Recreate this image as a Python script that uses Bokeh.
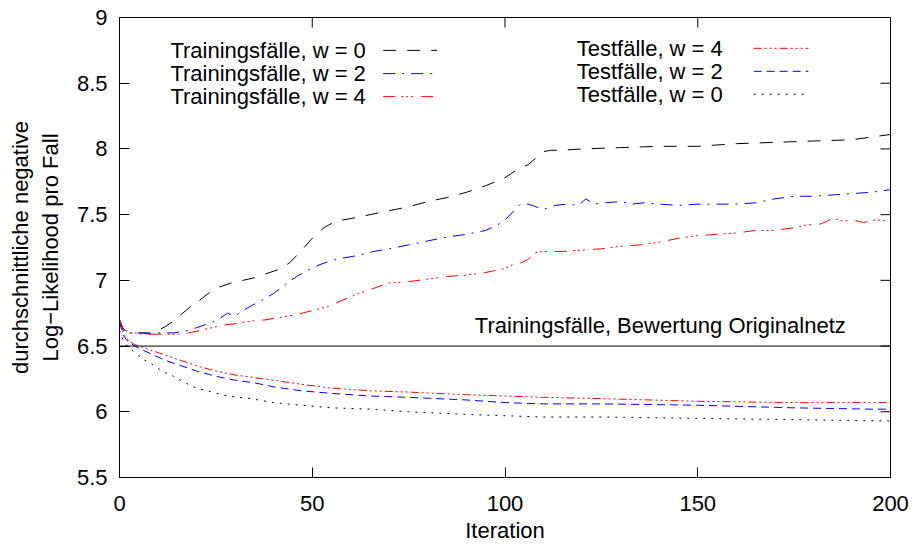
import numpy as np
from bokeh.plotting import figure
from bokeh.models import Range1d, Label, FixedTicker, Span
from bokeh.embed import file_html
from bokeh.resources import INLINE

FONT = "Liberation Sans"

# ---------------- data ----------------
x_ticks = [0, 50, 100, 150, 200]
y_ticks = [5.5, 6, 6.5, 7, 7.5, 8, 8.5, 9]

original_net_value = 6.5
original_net_label = "Trainingsfälle, Bewertung Originalnetz"

train_w0_x = [0, 1, 2, 4, 6, 8, 10, 12, 14, 16, 18, 20, 23, 26, 29, 32, 35, 38, 41, 44, 47, 50,
              53, 56, 60, 65, 70, 75, 80, 85, 90, 95, 100, 103, 106, 108, 110, 112, 115, 120,
              130, 140, 150, 160, 170, 180, 190, 195, 200]
train_w0_y = [6.69, 6.63, 6.61, 6.60, 6.60, 6.60, 6.62, 6.65, 6.69, 6.74, 6.79, 6.83, 6.90, 6.95,
              6.98, 7.00, 7.02, 7.05, 7.08, 7.13, 7.22, 7.32, 7.40, 7.45, 7.47, 7.50, 7.53,
              7.56, 7.60, 7.63, 7.67, 7.72, 7.78, 7.84, 7.88, 7.93, 7.98, 7.99, 7.99, 8.00,
              8.01, 8.02, 8.02, 8.04, 8.05, 8.06, 8.07, 8.09, 8.11]

train_w2_x = [0, 1, 2, 4, 6, 8, 10, 12, 14, 16, 18, 20, 22, 24, 26, 28, 30, 32, 35, 37, 40, 43,
              46, 49, 52, 55, 58, 62, 66, 70, 75, 80, 85, 90, 95, 98, 100, 102, 104, 106, 108,
              110, 113, 116, 119, 121, 123, 126, 130, 133, 136, 140, 145, 150, 155, 160, 165,
              170, 175, 180, 185, 190, 195, 200]
train_w2_y = [6.70, 6.62, 6.60, 6.60, 6.60, 6.59, 6.60, 6.60, 6.60, 6.61, 6.62, 6.64, 6.66,
              6.68, 6.71, 6.75, 6.73, 6.77, 6.82, 6.85, 6.90, 6.97, 7.03, 7.08, 7.12, 7.15,
              7.17, 7.19, 7.22, 7.24, 7.27, 7.30, 7.33, 7.35, 7.38, 7.42, 7.46, 7.52, 7.58,
              7.58, 7.56, 7.54, 7.57, 7.58, 7.57, 7.62, 7.58, 7.59, 7.60, 7.58, 7.59, 7.58,
              7.57, 7.58, 7.58, 7.58, 7.59, 7.62, 7.64, 7.64, 7.65, 7.66, 7.67, 7.69]

train_w4_x = [0, 1, 2, 4, 6, 8, 10, 12, 15, 18, 21, 24, 27, 30, 34, 38, 42, 46, 50, 54, 58, 62,
              66, 70, 75, 80, 85, 90, 95, 100, 102, 104, 106, 108, 110, 115, 120, 125, 130,
              135, 140, 145, 150, 155, 160, 165, 170, 175, 178, 182, 185, 188, 190, 193, 196,
              200]
train_w4_y = [6.70, 6.63, 6.60, 6.60, 6.59, 6.59, 6.59, 6.59, 6.59, 6.60, 6.62, 6.64, 6.66,
              6.67, 6.69, 6.70, 6.72, 6.74, 6.77, 6.80, 6.85, 6.90, 6.94, 6.98, 6.99, 7.01,
              7.03, 7.04, 7.06, 7.09, 7.12, 7.13, 7.16, 7.21, 7.22, 7.22, 7.23, 7.24, 7.26,
              7.27, 7.29, 7.32, 7.34, 7.35, 7.36, 7.38, 7.38, 7.40, 7.42, 7.43, 7.47, 7.45,
              7.46, 7.44, 7.46, 7.45]

test_w4_x = [0, 1, 2, 4, 6, 9, 12, 16, 20, 25, 30, 35, 40, 47, 55, 65, 75, 90, 100, 110, 125,
             150, 175, 200]
test_w4_y = [6.70, 6.60, 6.55, 6.51, 6.49, 6.46, 6.43, 6.39, 6.35, 6.31, 6.28, 6.26, 6.24,
             6.21, 6.18, 6.16, 6.15, 6.13, 6.12, 6.11, 6.10, 6.08, 6.07, 6.07]

test_w2_x = [0, 1, 2, 4, 6, 9, 12, 16, 20, 25, 30, 35, 40, 47, 55, 65, 75, 90, 100, 110, 125,
             150, 175, 195, 200]
test_w2_y = [6.68, 6.58, 6.54, 6.50, 6.47, 6.43, 6.39, 6.35, 6.31, 6.27, 6.24, 6.22, 6.19,
             6.16, 6.14, 6.12, 6.11, 6.09, 6.07, 6.06, 6.06, 6.05, 6.03, 6.02, 6.02]

test_w0_x = [0, 1, 2, 4, 6, 8, 11, 14, 17, 20, 24, 28, 34, 40, 47, 55, 65, 75, 90, 100, 110,
             125, 150, 175, 200]
test_w0_y = [6.62, 6.54, 6.50, 6.45, 6.40, 6.37, 6.31, 6.27, 6.22, 6.18, 6.15, 6.12, 6.10,
             6.07, 6.05, 6.03, 6.02, 6.00, 5.98, 5.97, 5.96, 5.96, 5.95, 5.94, 5.93]

series = [
    # (label, x, y, color, dash, legend column, legend row)
    ("Trainingsfälle, w = 0", train_w0_x, train_w0_y, "#000000", "13 11", 0, 0),
    ("Trainingsfälle, w = 2", train_w2_x, train_w2_y, "#0000ff", "12 7 2 7", 0, 1),
    ("Trainingsfälle, w = 4", train_w4_x, train_w4_y, "#ff0000", "12 6 2 3 2 3 2 8", 0, 2),
    ("Testfälle, w = 4", test_w4_x, test_w4_y, "#ff0000", "8 3 2 3 2 3 2 3", 1, 0),
    ("Testfälle, w = 2", test_w2_x, test_w2_y, "#0000ff", "8 5", 1, 1),
    ("Testfälle, w = 0", test_w0_x, test_w0_y, "#000000", "2 6", 1, 2),
]

x_title = "Iteration"
y_title = "durchschnittliche negative\nLog−Likelihood pro Fall"

# ---------------- figure ----------------
X0, X1 = 0, 200
Y0, Y1 = 5.5, 9
FS = "22px"

p = figure(width=910, height=548, x_range=Range1d(X0, X1), y_range=Range1d(Y0, Y1),
           output_backend="svg", toolbar_location=None,
           min_border_left=119, min_border_right=20, min_border_top=17, min_border_bottom=71)
p.background_fill_color = "white"
p.border_fill_color = "white"
p.grid.visible = False
p.outline_line_color = "black"
p.outline_line_width = 1

for ax in (p.xaxis[0], p.yaxis[0]):
    ax.major_tick_in = 10
    ax.major_tick_out = 0
    ax.minor_tick_line_color = None
    ax.axis_line_color = "black"
    ax.major_tick_line_color = "black"
    ax.major_label_text_font = FONT
    ax.major_label_text_font_size = FS
    ax.major_label_text_color = "black"
    ax.axis_label_text_font = FONT
    ax.axis_label_text_font_size = FS
    ax.axis_label_text_font_style = "normal"
    ax.axis_label_text_color = "black"

p.xaxis.ticker = FixedTicker(ticks=x_ticks)
p.yaxis.ticker = FixedTicker(ticks=y_ticks)
p.xaxis.major_label_standoff = 18
p.xaxis.axis_label = x_title
p.xaxis.axis_label_standoff = 4
p.yaxis.major_label_standoff = 12
p.yaxis.axis_label = y_title
p.yaxis.axis_label_standoff = 11

# mirrored inward ticks on the right and top edges of the frame
p.ray(x=[X1] * len(y_ticks), y=y_ticks, length=10, length_units="screen", angle=np.pi,
      line_color="black", line_width=1)
p.ray(x=x_ticks, y=[Y1] * len(x_ticks), length=10, length_units="screen", angle=-np.pi / 2,
      line_color="black", line_width=1)

# reference line of the original network
p.add_layout(Span(location=original_net_value, dimension="width", line_color="black",
                  line_width=1))
p.add_layout(Label(x=X1 - 0.058 * (X1 - X0), y=Y0 + 0.3295 * (Y1 - Y0), text=original_net_label,
                   text_font=FONT, text_font_size=FS, text_align="right",
                   text_baseline="middle", text_color="black"))

# curves
for label, xs, ys, color, dash, col, row in series:
    p.line(xs, ys, line_color=color, line_width=1, line_dash=dash)

# legend drawn inside the plot (text left, sample right, as in gnuplot)
leg_text_right = [0.3195, 0.7825]      # fractions of the x range
leg_sample = [(0.342, 0.412), (0.8225, 0.8935)]
leg_rows = [[0.9285, 0.878, 0.828], [0.933, 0.883, 0.833]]   # fractions of y range
for label, xs, ys, color, dash, col, row in series:
    fy = Y0 + leg_rows[col][row] * (Y1 - Y0)
    p.add_layout(Label(x=X0 + leg_text_right[col] * (X1 - X0), y=fy, text=label,
                       text_font=FONT, text_font_size=FS, text_align="right",
                       text_baseline="middle", text_color="black"))
    sx0, sx1 = leg_sample[col]
    p.line([X0 + sx0 * (X1 - X0), X0 + sx1 * (X1 - X0)], [fy, fy], line_color=color,
           line_width=1, line_dash=dash)

open("out.html", "w").write(file_html(p, INLINE))
